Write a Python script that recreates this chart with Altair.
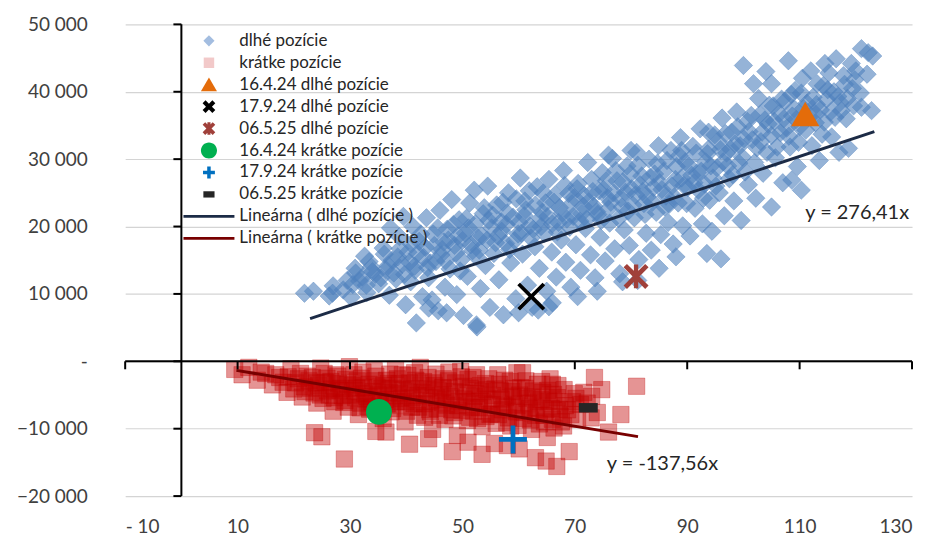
import math
import altair as alt
import pandas as pd

# ---------------- data (y values in thousands) ----------------
long_points = [
    (21.9,10.1),(23.5,10.4),(26.3,9.7),(26.9,10.1),(27.0,11.2),(28.8,10.6),(29.5,12.0),(30.2,9.5),(31.0,13.1),(30.5,11.4),
    (32.2,12.5),(33.0,10.2),(33.8,14.0),(32.6,15.6),(34.5,12.9),(35.1,11.5),(35.9,16.8),(36.4,13.6),(37.0,9.8),(37.5,15.0),
    (38.2,12.2),(38.8,18.5),(39.3,14.4),(39.9,8.4),(40.3,16.2),(40.8,11.8),(41.2,20.0),(41.8,5.7),(41.6,13.5),(42.3,17.8),
    (42.9,9.6),(43.1,15.4),(43.6,21.3),(44.0,12.4),(44.6,9.1),(44.8,18.9),(45.3,14.8),(45.7,7.5),(46.0,22.4),(46.4,16.6),
    (46.9,11.0),(47.3,19.6),(47.8,13.7),(48.1,24.0),(48.6,17.2),(49.0,9.9),(49.4,21.0),(49.8,15.1),(50.2,6.8),(50.5,19.0),
    (50.9,12.6),(51.3,23.5),(51.8,16.4),(52.1,25.4),(52.6,5.1),(52.8,18.3),(53.2,10.8),(53.7,21.9),(54.1,14.2),(54.5,26.0),
    (54.9,8.0),(55.2,19.8),(55.6,16.0),(56.1,23.2),(56.5,12.1),(56.9,20.7),(57.3,6.9),(57.7,17.5),(58.2,25.0),(58.6,14.6),
    (59.0,21.4),(59.5,9.3),(59.9,18.9),(60.3,27.2),(60.7,15.9),(61.1,23.8),(61.6,11.3),(62.0,20.1),(62.4,8.0),(62.9,17.0),
    (63.3,25.9),(63.7,13.8),(64.2,22.1),(64.6,19.0),(65.0,10.4),(65.4,27.0),(65.9,16.2),(66.3,23.6),(66.7,12.5),(67.1,20.6),
    (67.6,18.0),(68.0,28.3),(68.4,14.7),(68.9,24.9),(69.3,11.0),(69.7,21.5),(70.2,17.3),(70.6,26.4),(71.0,13.5),(71.5,23.0),
    (71.9,19.7),(72.3,29.5),(72.8,15.8),(73.2,25.2),(73.6,12.4),(74.1,21.8),(74.5,18.4),(74.9,28.0),(75.4,14.9),(75.8,24.3),
    (76.2,20.5),(76.7,30.1),(77.1,16.7),(77.5,26.8),(78.0,13.0),(78.4,22.9),(78.8,19.5),(79.3,29.0),(79.7,17.2),(80.1,25.6),
    (80.6,21.3),(81.0,31.0),(81.4,15.1),(81.9,27.5),(82.3,23.4),(82.7,19.0),(83.2,30.0),(83.6,16.5),(84.0,25.8),(84.5,22.1),
    (84.9,32.0),(85.3,18.8),(85.8,28.2),(86.2,24.5),(86.6,20.6),(87.1,31.3),(87.5,17.4),(87.9,27.0),(88.4,23.5),(88.8,33.2),
    (89.2,20.1),(89.7,29.6),(90.1,25.8),(90.5,18.6),(91.0,31.9),(91.4,22.7),(91.8,28.0),(92.3,34.5),(92.7,20.4),(93.1,26.3),
    (93.6,30.8),(94.0,23.9),(94.4,19.3),(94.9,33.6),(95.3,28.7),(95.7,25.0),(96.2,36.1),(96.6,21.6),(97.0,30.9),(97.5,27.1),
    (97.9,34.0),(98.3,23.8),(98.8,37.0),(99.2,29.4),(99.6,20.9),(100.1,33.0),(100.0,43.9),(100.9,26.2),(101.4,36.5),(101.8,41.2),
    (102.2,24.2),(102.7,39.0),(103.1,32.6),(103.5,27.9),(104.0,43.0),(104.4,35.2),(105.0,22.9),(105.3,37.9),(105.7,30.2),(105.0,41.2),
    (106.6,33.9),(107.0,26.5),(107.4,38.6),(108.0,44.6),(108.3,31.8),(108.7,36.4),(109.2,40.2),(109.6,28.9),(110.0,34.8),(110.5,42.0),
    (110.3,25.4),(111.3,38.3),(112.0,43.1),(112.2,32.0),(112.6,36.9),(113.1,41.2),(113.5,29.8),(114.5,44.2),(114.4,35.5),(114.8,38.9),
    (115.2,42.8),(115.7,33.3),(116.1,40.0),(116.5,44.9),(117.0,31.0),(117.4,37.2),(117.8,42.4),(118.3,36.0),(119.2,44.2),(118.7,31.6),
    (119.6,37.9),(120.0,43.1),(121.0,46.4),(121.0,37.7),(122.2,45.8),(122.0,42.6),(123.0,45.3),(122.8,37.2),(108.6,26.9),
    (31.7,11.9),(34.0,13.3),(36.8,14.2),(38.5,15.5),(40.6,14.7),(42.0,16.0),(43.8,13.9),(45.0,17.2),(46.2,15.8),(47.5,18.0),
    (48.9,16.1),(50.0,17.9),(51.1,19.8),(52.4,15.6),(53.5,18.6),(54.7,20.9),(55.9,17.6),(57.0,19.3),(58.0,22.0),(59.3,17.9),
    (60.1,20.6),(61.3,22.5),(62.6,19.6),(63.9,21.2),(64.8,23.5),(66.0,20.4),(67.3,22.8),(68.6,21.1),(69.9,24.3),(71.2,21.9),
    (72.5,23.7),(73.9,22.2),(75.1,25.5),(76.4,23.6),(77.8,21.2),(79.0,25.1),(80.3,23.2),(81.6,26.2),(82.9,24.4),(84.2,27.8),
    (85.5,25.5),(86.8,23.3),(88.1,28.9),(89.4,26.1),(90.8,27.6),(92.0,25.4),(93.3,29.6),(94.6,27.2),(95.9,31.4),(97.2,29.0),
    (98.5,32.3),(99.8,30.3),(101.0,34.1),(102.4,31.7),(103.8,35.8),(105.0,33.5),(106.4,36.8),(107.7,34.6),(109.0,37.5),(110.3,39.8),
    (111.6,36.2),(113.0,38.1),(114.2,40.9),(115.5,37.0),(116.8,39.3),(118.0,41.1),(119.4,40.5),
    (39.5,21.5),(37.2,19.8),(44.0,7.9),(47.2,7.2),(52.5,5.4),(88.0,15.5),(93.5,16.0),(96.0,15.2),(85.0,13.8),(81.2,12.0),
    (78.5,11.8),(74.0,10.4),(70.5,9.6),(66.0,8.7),(63.5,7.6),(60.0,7.2),(65.4,8.1),(76.0,30.6),(80.0,31.3),(89.0,31.3),
    (93.8,34.0),
    (30.9,13.8),(32.9,11.3),(33.4,14.8),(35.5,12.4),(36.1,15.9),(37.8,13.1),(38.9,16.7),(39.7,12.9),(40.9,17.4),(41.5,14.1),
    (42.6,18.9),(43.4,16.9),(44.3,14.6),(45.6,19.8),(46.7,17.7),(47.0,14.9),(48.4,20.3),(49.2,18.6),(49.6,13.4),(50.7,21.2),
    (51.5,17.3),(52.3,20.4),(53.0,16.5),(53.9,22.8),(54.4,18.0),(55.4,21.7),(56.3,18.6),(57.2,23.6),(57.8,20.3),(58.4,16.6),
    (59.6,24.1),(60.5,19.0),(61.0,21.6),(61.9,25.3),(62.2,18.3),(63.0,23.2),(64.0,20.0),(64.4,25.0),(65.2,21.5),(66.5,24.7),
    (66.9,19.2),(67.8,22.0),(68.2,26.1),(69.1,19.9),(69.5,23.4),(70.4,25.6),(70.9,20.8),(71.7,24.6),(72.1,21.1),(73.0,27.0),
    (73.4,23.0),(74.3,25.3),(74.7,20.9),(75.6,26.8),(76.0,22.6),(76.9,25.0),(77.3,28.3),(78.2,24.2),(78.6,26.6),(79.5,22.3),
    (79.9,27.8),(80.8,24.7),(81.2,29.1),(82.1,25.2),(82.5,21.8),(83.4,27.3),(83.8,23.6),(84.7,29.4),(85.1,26.5),(86.0,22.9),
    (86.4,29.8),(87.3,26.0),(87.7,24.4),(88.6,30.5),(89.0,27.2),(89.9,23.4),(90.3,29.0),(91.2,26.5),(91.6,30.9),(92.5,28.2),
    (92.9,24.2),(93.8,31.5),(94.2,29.0),(95.1,26.0),(95.5,32.6),(96.4,29.6),(96.8,33.8),(97.7,31.5),(98.1,27.7),(99.0,34.8),
    (99.4,32.0),(100.3,28.1),(100.7,35.6),(101.6,32.9),(102.0,29.5),(102.9,36.6),(103.3,34.0),(104.2,31.0),(104.6,38.0),(105.5,35.6),
    (106.0,31.8),(106.8,38.9),(107.2,36.0),(108.1,33.4),(108.5,39.6),(109.4,35.9),(109.8,32.5),(110.7,37.5),(111.1,34.3),(112.4,39.2),
    (112.8,35.4),(113.7,37.3),(114.0,33.7),(115.0,40.3),(116.3,36.2),(117.2,38.4),(118.5,39.0),(119.8,41.8),(120.8,39.8),
]

short_points = [
    (9.5,-1.2),(10.8,-2.0),(12.0,-0.9),(13.5,-2.8),(15.0,-1.8),(16.2,-3.5),(17.5,-2.4),(18.8,-4.6),(19.5,-1.1),(20.3,-3.2),
    (21.5,-5.3),(22.4,-2.2),(23.0,-4.0),(24.1,-6.2),(24.8,-1.0),(25.6,-3.1),(26.3,-5.0),(27.0,-7.4),(27.5,-2.0),(28.2,-4.3),
    (28.9,-6.1),(29.0,-14.5),(29.9,-0.8),(30.4,-3.6),(31.0,-5.4),(31.5,-7.9),(32.0,-2.5),(32.6,-4.8),(33.2,-6.7),(34.6,-10.4),
    (34.3,-1.4),(34.8,-3.9),(35.4,-5.9),(35.9,-8.5),(36.5,-2.8),(37.0,-4.6),(37.6,-7.0),(38.1,-1.2),(38.7,-3.3),(39.2,-5.5),
    (39.8,-9.0),(40.3,-2.1),(40.9,-4.1),(41.4,-6.3),(42.0,-8.0),(42.5,-0.9),(43.1,-3.0),(43.6,-5.0),(44.2,-7.2),(44.7,-10.1),
    (45.3,-1.9),(45.8,-4.4),(46.4,-6.1),(46.9,-8.6),(47.5,-2.9),(48.0,-5.3),(48.6,-7.6),(49.1,-11.0),(49.7,-1.5),(50.2,-3.7),
    (50.8,-6.0),(51.3,-8.3),(51.9,-2.4),(52.4,-4.8),(53.0,-6.9),(53.5,-9.7),(54.1,-3.3),(54.6,-5.6),(55.2,-7.8),(55.7,-12.2),
    (56.3,-2.0),(56.8,-4.4),(57.4,-6.6),(57.9,-9.1),(58.5,-3.0),(59.0,-5.2),(59.6,-7.5),(60.1,-13.0),(60.7,-1.7),(61.2,-4.0),
    (61.8,-6.2),(62.3,-10.1),(63.0,-14.3),(63.4,-3.4),(64.0,-5.7),(64.5,-8.0),(65.1,-11.3),(65.6,-2.6),(66.2,-4.9),(66.8,-15.6),
    (67.3,-7.1),(68.0,-9.6),(69.0,-13.4),(70.2,-5.5),(71.0,-6.4),(72.9,-8.4),(73.5,-2.4),(74.8,-4.2),(76.0,-10.5),(78.2,-7.9),
    (81.0,-3.7),(66.0,-3.4),(59.7,-1.7),(25.0,-11.2),(23.7,-10.6),(36.4,-10.5),(40.6,-12.3),(44.0,-11.5),(48.2,-13.4),(51.0,-12.0),
    (53.5,-13.8),(58.0,-12.5),(64.9,-14.8),
    (20.8,-2.6),(21.9,-3.8),(22.7,-2.9),(23.6,-4.7),(24.4,-3.6),(25.2,-5.5),(25.9,-2.5),(26.7,-4.1),(27.3,-6.0),(28.0,-3.3),
    (28.6,-5.1),(29.2,-2.7),(29.7,-6.8),(30.8,-4.4),(31.3,-2.9),(31.9,-6.2),(32.4,-3.9),(33.0,-5.2),(33.5,-7.1),(34.1,-4.5),
    (34.6,-2.2),(35.2,-6.6),(35.7,-4.0),(36.3,-5.7),(36.8,-3.3),(37.3,-7.5),(37.9,-5.1),(38.4,-2.6),(39.0,-6.5),(39.5,-4.2),
    (40.1,-7.4),(40.6,-3.2),(41.1,-5.4),(41.7,-2.8),(42.2,-6.8),(42.8,-4.6),(43.3,-8.3),(43.9,-2.4),(44.4,-5.9),(45.0,-3.6),
    (45.5,-7.0),(46.1,-5.0),(46.6,-2.6),(47.2,-6.5),(47.7,-4.0),(48.3,-8.1),(48.8,-3.2),(49.4,-5.9),(49.9,-7.3),(50.5,-4.7),
    (51.0,-2.7),(51.6,-6.8),(52.1,-5.2),(52.7,-8.5),(53.2,-3.6),(53.8,-6.2),(54.3,-4.2),(54.9,-7.9),(55.4,-5.1),(56.0,-9.2),
    (56.6,-3.4),(57.1,-7.2),(57.7,-5.4),(58.2,-8.4),(58.8,-4.5),(59.3,-6.4),(59.9,-9.5),(60.4,-3.9),(61.0,-7.6),(61.5,-5.5),
    (62.1,-8.7),(62.6,-4.4),(63.2,-6.9),(63.7,-9.3),(64.3,-4.6),(64.8,-7.2),(65.4,-5.9),(66.0,-8.6),(66.5,-6.0),(67.0,-3.6),
    (67.6,-9.0),(68.3,-6.6),(69.3,-7.9),(69.9,-4.8),
    (14.2,-1.6),(16.8,-2.0),(18.1,-3.1),(19.0,-2.3),(20.0,-4.1),(21.2,-1.8),(22.0,-4.5),(23.3,-2.4),(24.0,-3.2),(24.7,-5.0),
    (25.4,-1.8),(26.0,-4.4),(26.6,-3.0),(27.2,-5.4),(27.8,-2.2),(28.4,-4.0),(29.1,-5.8),(29.6,-3.4),(30.2,-5.0),(30.7,-2.0),
    (31.2,-4.0),(31.8,-6.9),(32.3,-1.6),(32.8,-5.6),(33.4,-3.4),(33.9,-6.0),(34.4,-2.9),(35.0,-5.0),(35.5,-7.5),(36.0,-3.6),
    (36.6,-6.3),(37.1,-1.9),(37.7,-4.0),(38.2,-6.0),(38.8,-4.8),(39.3,-2.0),(39.9,-6.0),(40.4,-4.6),(41.0,-6.8),(41.5,-1.7),
    (42.1,-5.1),(42.6,-3.5),(43.2,-6.3),(43.7,-4.1),(44.3,-7.5),(44.8,-3.2),(45.4,-5.4),(45.9,-8.0),(46.5,-3.9),(47.0,-5.6),
    (47.6,-1.6),(48.1,-7.2),(48.7,-4.5),(49.2,-6.6),(49.8,-2.3),(50.3,-5.6),(50.9,-8.8),(51.4,-4.0),(52.0,-7.4),(52.5,-2.0),
    (53.1,-5.9),(53.6,-4.5),(54.2,-8.2),(54.7,-2.6),(55.3,-6.4),(55.8,-4.1),(56.4,-7.9),(56.9,-5.6),(57.5,-2.8),(58.0,-6.8),
    (58.6,-9.6),(59.1,-4.0),(59.7,-6.6),(60.2,-5.0),(60.8,-8.5),(61.3,-2.9),(61.9,-7.0),(62.4,-5.3),(63.0,-8.0),(63.5,-6.0),
    (64.1,-3.0),(64.6,-9.0),(65.2,-4.3),(65.8,-7.0),(66.3,-9.9),(66.9,-5.4),(67.4,-8.2),(68.1,-4.2),(68.7,-7.2),(69.6,-6.0),
    (70.5,-8.6),(71.6,-4.6),(72.2,-6.2),(73.0,-5.2),(74.0,-7.6),
]

marker_labels = ["16.4.24 dlhé pozície", "17.9.24 dlhé pozície", "06.5.25 dlhé pozície",
                 "16.4.24 krátke pozície", "17.9.24 krátke pozície", "06.5.25 krátke pozície"]
marker_x = [111.0, 62.25, 80.9, 35.15, 59.0, 72.4]
marker_y = [36.7, 9.6, 12.6, -7.5, -11.6, -6.9]

long_slope = 276.41 / 1000.0     # y = 276,41x (y in thousands)
short_slope = -137.56 / 1000.0   # y = -137,56x
long_line_x = [22.9, 123.3]
short_line_x = [9.8, 81.25]

eq_text = ["y = 276,41x", "y = -137,56x"]
eq_x = [111.0, 75.7]
eq_y = [22.0, -15.3]

x_ticks = [-10, 10, 30, 50, 70, 90, 110, 130]
y_ticks = [-20, -10, 0, 10, 20, 30, 40, 50]

legend_labels = ["\u00a0dlhé pozície", "\u00a0krátke pozície",
                 "16.4.24 dlhé pozície", "17.9.24 dlhé pozície", "06.5.25 dlhé pozície",
                 "16.4.24 krátke pozície", "17.9.24 krátke pozície", "06.5.25 krátke pozície",
                 "Lineárna ( dlhé pozície )", "Lineárna ( krátke pozície )"]

# ---------------- shape helpers (styling) ----------------
def x_path(L, d):
    c = d / math.sqrt(2)
    a = 2 * c
    pts = [(0, -a), (L - c, -L - c), (L + c, -L + c), (a, 0), (L + c, L - c), (L - c, L + c),
           (0, a), (-L + c, L + c), (-L - c, L - c), (-a, 0), (-L - c, -L + c), (-L + c, -L - c)]
    return "M" + "L".join(f"{px:.3f},{py:.3f}" for px, py in pts) + "Z"

def plus_path(L, t):
    pts = [(-t, -L), (t, -L), (t, -t), (L, -t), (L, t), (t, t), (t, L), (-t, L), (-t, t), (-L, t), (-L, -t), (-t, -t)]
    return "M" + "L".join(f"{px:.3f},{py:.3f}" for px, py in pts) + "Z"

def rect_path(w, h):
    return f"M{-w},{-h}L{w},{-h}L{w},{h}L{-w},{h}Z"

def star_path(L, d, w, L2):
    return x_path(L, d) + " " + rect_path(w, L2)

# ---------------- frames ----------------
long_df = pd.DataFrame(long_points, columns=["x", "y"])
short_df = pd.DataFrame(short_points, columns=["x", "y"])
mk_df = pd.DataFrame({"label": marker_labels, "x": marker_x, "y": marker_y})
lline_df = pd.DataFrame({"x": long_line_x, "y": [long_slope * v for v in long_line_x]})
sline_df = pd.DataFrame({"x": short_line_x, "y": [short_slope * v for v in short_line_x]})
eq_df = pd.DataFrame({"t": eq_text, "x": eq_x, "y": eq_y})

xs = alt.Scale(domain=[x_ticks[0], x_ticks[-1]], nice=False, zero=False)
ys = alt.Scale(domain=[y_ticks[0], y_ticks[-1]], nice=False, zero=False)

FONT = "Lato"

x_axis = alt.Axis(
    values=x_ticks, grid=False, domain=False, ticks=False, tickSize=0, title=None,
    labelFont=FONT, labelFontSize=19, labelColor="#404040", labelPadding=22,
    labelExpr="datum.value == -10 ? '- 10' : format(datum.value, 'd')")
y_axis = alt.Axis(
    values=y_ticks, grid=True, gridColor="#d4d4d4", gridWidth=1.2, domain=False, ticks=False,
    tickSize=0, title=None, labelFont=FONT, labelFontSize=19, labelColor="#404040", labelPadding=38,
    labelExpr="datum.value == 0 ? '-' : format(datum.value, 'd') + ' 000'")

X = alt.X("x:Q", scale=xs, axis=x_axis)
Y = alt.Y("y:Q", scale=ys, axis=y_axis)

blue = alt.Chart(long_df).mark_point(
    shape="diamond", filled=True, size=340, opacity=1, fill="#4f81bd", fillOpacity=0.6,
    stroke="#4f81bd", strokeOpacity=0.4, strokeWidth=1).encode(x=X, y=Y)

red = alt.Chart(short_df).mark_point(
    shape="square", filled=True, size=270, opacity=1, fill="#c00000", fillOpacity=0.42,
    stroke="#c00000", strokeOpacity=0.3, strokeWidth=1).encode(x=X, y=Y)

lline = alt.Chart(lline_df).mark_line(color="#1c2b46", strokeWidth=3).encode(x=X, y=Y)
sline = alt.Chart(sline_df).mark_line(color="#780000", strokeWidth=3).encode(x=X, y=Y)

# axis lines through the origin
yline = alt.Chart(pd.DataFrame({"x": [0], "y": [y_ticks[0]], "y2": [y_ticks[-1]]})).mark_rule(
    color="black", strokeWidth=2).encode(x=X, y=Y, y2="y2:Q")
ytk = alt.Chart(pd.DataFrame({"x": [0] * len(y_ticks), "y": y_ticks})).mark_rule(
    color="black", strokeWidth=2, x2Offset=-8).encode(x=X, x2="x:Q", y=Y)
xline = alt.Chart(pd.DataFrame({"x": [x_ticks[0]], "x2": [x_ticks[-1]], "y": [0]})).mark_rule(
    color="black", strokeWidth=2).encode(x=X, x2="x2:Q", y=Y)
xtk = alt.Chart(pd.DataFrame({"x": x_ticks, "y": [0] * len(x_ticks)})).mark_rule(
    color="black", strokeWidth=2, y2Offset=8).encode(x=X, y=Y, y2="y:Q")

# highlighted markers
mk_style = [
    ("triangle-up", 800, "#e46c0a"),
    (x_path(1.0, 0.15), 640, "#000000"),
    (star_path(1.0, 0.22, 0.2, 1.1), 470, "#a0403a"),
    ("circle", 676, "#00b050"),
    (plus_path(1.0, 0.17), 784, "#0070c0"),
    (rect_path(1.0, 0.5), 361, "#262626"),
]
mk_layers = []
for i, (shp, sz, col) in enumerate(mk_style):
    mk_layers.append(
        alt.Chart(mk_df).transform_filter(alt.datum.label == marker_labels[i]).mark_point(
            shape=shp, size=sz, filled=True, opacity=1, fill=col, strokeWidth=0).encode(x=X, y=Y))

eq = alt.Chart(eq_df).mark_text(align="left", baseline="middle", font=FONT, fontSize=20,
                                color="#262626").encode(x=X, y=Y, text="t:N")

# legend (no marks drawn, only the legend)
legend_colors = ["#a3bde0", "#f2c9c9", "#e46c0a", "#000000", "#a0403a", "#00b050", "#0070c0",
                 "#262626", "#1c2b46", "#780000"]
legend_shapes = [
    "M0,-0.8L0.8,0L0,0.8L-0.8,0Z",
    rect_path(0.75, 0.75),
    "M0,-1.05L1.15,0.95L-1.15,0.95Z",
    x_path(0.7, 0.3),
    star_path(0.72, 0.26, 0.22, 0.9),
    "M1.15,0A1.15,1.15,0,1,1,-1.15,0A1.15,1.15,0,1,1,1.15,0Z",
    plus_path(0.85, 0.25),
    rect_path(0.8, 0.45),
    rect_path(3.65, 0.2),
    rect_path(3.65, 0.2),
]
leg = alt.Legend(title=None, orient="none", legendX=75.5, legendY=8, padding=0,
                 symbolSize=196, symbolStrokeWidth=0, labelFont=FONT, labelFontSize=17,
                 labelColor="#262626", labelOffset=22, rowPadding=4, labelLimit=400)
legend_layer = alt.Chart(pd.DataFrame({"series": legend_labels})).transform_filter("false").mark_point(
    filled=True, opacity=1).encode(
    x=X, y=Y,
    color=alt.Color("series:N", scale=alt.Scale(domain=legend_labels, range=legend_colors), legend=leg),
    shape=alt.Shape("series:N", scale=alt.Scale(domain=legend_labels, range=legend_shapes), legend=leg),
)

chart = alt.layer(
    blue, lline, red, sline, xtk, ytk, yline, xline, *mk_layers, eq, legend_layer
).properties(
    width=789, height=473,
    autosize=alt.AutoSizeParams(type="none"),
    padding={"left": 117.5, "top": 15.7, "right": 10, "bottom": 40},
).configure_view(stroke=None)

chart.save("out.html", embed_options={"renderer": "svg", "actions": False})
